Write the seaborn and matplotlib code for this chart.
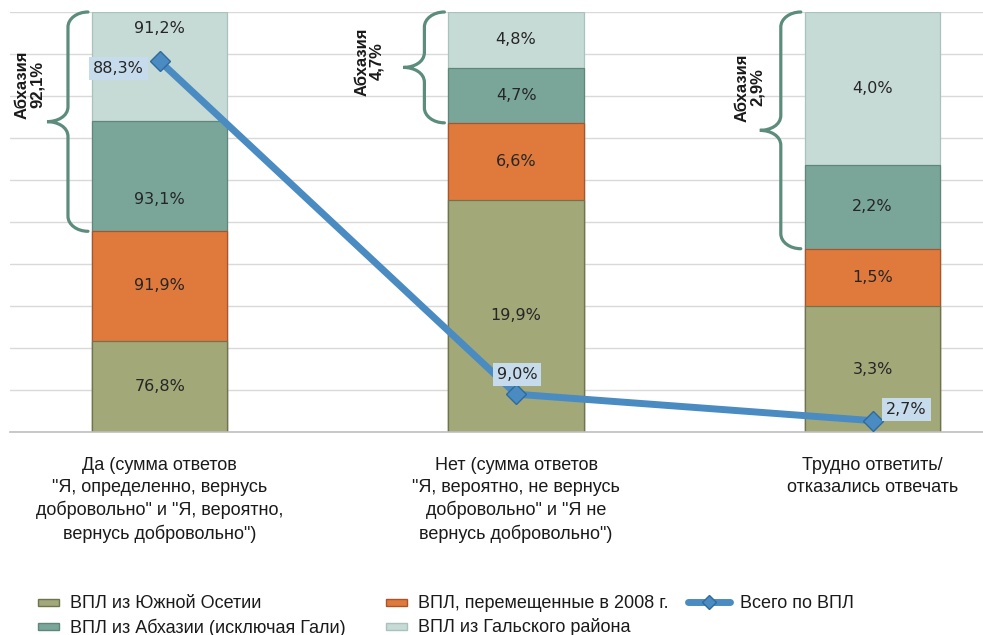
import numpy as np
import pandas as pd
import matplotlib
matplotlib.use("Agg")
import matplotlib.pyplot as plt
import seaborn as sns
from matplotlib.patches import Rectangle, PathPatch, Patch
from matplotlib.path import Path
from matplotlib.lines import Line2D
from matplotlib.legend_handler import HandlerPatch

# ---------------- data ----------------
categories = [
    'Да (сумма ответов\n"Я, определенно, вернусь\nдобровольно" и "Я, вероятно,\nвернусь добровольно")',
    'Нет (сумма ответов\n"Я, вероятно, не вернусь\nдобровольно" и "Я не\nвернусь добровольно")',
    'Трудно ответить/\nотказались отвечать',
]
series_names = [
    "ВПЛ из Южной Осетии",
    "ВПЛ, перемещенные в 2008 г.",
    "ВПЛ из Абхазии (исключая Гали)",
    "ВПЛ из Гальского района",
]
south_ossetia = [76.8, 19.9, 3.3]
displaced_2008 = [91.9, 6.6, 1.5]
abkhazia_excl_gali = [93.1, 4.7, 2.2]
gali_district = [91.2, 4.8, 4.0]
total_name = "Всего по ВПЛ"
total_idp = [88.3, 9.0, 2.7]
abkhazia_total = [92.1, 4.7, 2.9]

# ---------------- style ----------------
colors = ["#A2A878", "#E07A3C", "#7AA69A", "#C6DAD6"]
edge_colors = ["#6F7450", "#A9542A", "#5E8679", "#A9C2BD"]
line_color = "#4A8BC2"
label_box = "#C6DBEC"
brace_color = "#5C8C7C"
narrow = ["Liberation Sans", "DejaVu Sans"]

sns.set_theme(style="white")
plt.rcParams["font.family"] = ["DejaVu Sans"]

W, H = 983, 635
fig = plt.figure(figsize=(W / 100, H / 100), dpi=100)
ax = fig.add_axes([10 / W, (H - 432) / H, 973 / W, 420 / H])

vals = np.array([south_ossetia, displaced_2008, abkhazia_excl_gali, gali_district])
shares = vals / vals.sum(axis=0) * 100
cum = shares.cumsum(axis=0)

bar_w = 0.38
# cumulative bars drawn from top layer down
for i in range(len(series_names) - 1, -1, -1):
    sns.barplot(x=categories, y=cum[i], color=colors[i], saturation=1,
                width=bar_w, edgecolor=edge_colors[i], linewidth=0.9,
                errorbar=None, ax=ax, zorder=2)

# data labels inside bars
label_shift = {(3, 0): 27, (2, 0): -17}
for i in range(len(series_names)):
    for j in range(len(categories)):
        yc = cum[i, j] - shares[i, j] / 2
        ax.annotate(f"{vals[i, j]:.1f}%".replace(".", ","), xy=(j, yc),
                    xytext=(0, label_shift.get((i, j), 0)), textcoords="offset points",
                    ha="center", va="center", fontsize=11.5, color="#262626", zorder=4)

# total line
df_line = pd.DataFrame({"cat": categories, "val": total_idp})
sns.lineplot(data=df_line, x="cat", y="val", sort=False, color=line_color,
             linewidth=5, marker="D", markersize=10, markerfacecolor=line_color,
             markeredgecolor="#2F6A9E", markeredgewidth=1, ax=ax, zorder=6)

line_offsets = [(-29.5, -5), (0.7, 14.5), (24.5, 8)]
for j, v in enumerate(total_idp):
    ax.annotate(f"{v:.1f}%".replace(".", ","), xy=(j, v), xytext=line_offsets[j],
                textcoords="offset points", ha="center", va="center", fontsize=11.5,
                color="#262626", zorder=7,
                bbox=dict(boxstyle="square,pad=0.25", facecolor=label_box, edgecolor="none"))

# braces for Abkhazia
px_x = 1 / 356.5
px_y = 100 / 420
brace_text_off = [(-17, 37), (-34, 6), (-10, 43)]
for j in range(len(categories)):
    left = j - bar_w / 2
    x_end = left - 4 * px_x
    x_mid = left - 24 * px_x
    x_tip = left - 45 * px_x
    y_top = cum[3, j]
    y_bot = cum[1, j]
    y_tip = (y_top + y_bot) / 2
    r = 15 * px_y
    verts = [
        (x_end, y_top),
        (x_mid + (x_end - x_mid) * 0.45, y_top), (x_mid, y_top - r * 0.45), (x_mid, y_top - r),
        (x_mid, y_tip + r),
        (x_mid, y_tip + r * 0.35), ((x_mid + x_tip) / 2, y_tip), (x_tip, y_tip),
        ((x_mid + x_tip) / 2, y_tip), (x_mid, y_tip - r * 0.35), (x_mid, y_tip - r),
        (x_mid, y_bot + r),
        (x_mid, y_bot + r * 0.45), (x_mid + (x_end - x_mid) * 0.45, y_bot), (x_end, y_bot),
    ]
    codes = [Path.MOVETO] + [Path.CURVE4] * 3 + [Path.LINETO] + [Path.CURVE4] * 6 + \
            [Path.LINETO] + [Path.CURVE4] * 3
    ax.add_patch(PathPatch(Path(verts, codes), facecolor="none", edgecolor=brace_color,
                           linewidth=2.3, capstyle="round", clip_on=False, zorder=3))
    ox, oy = brace_text_off[j]
    ax.annotate(f"Абхазия\n{abkhazia_total[j]:.1f}%".replace(".", ","),
                xy=(x_tip, y_tip), xytext=(ox * 0.72, oy * 0.72), textcoords="offset points",
                rotation=90, ha="center", va="center", multialignment="center",
                fontsize=12, fontweight="bold", color="#1a1a1a", linespacing=1.0,
                family=narrow)

# axes styling
ax.set_ylim(0, 100)
ax.set_xlim(-0.42, 2.31)
ax.set_yticks(np.arange(0, 101, 10))
ax.set_yticklabels([])
ax.yaxis.grid(True, color="#D9D9D9", linewidth=1)
ax.set_axisbelow(True)
for s in ["left", "right", "top"]:
    ax.spines[s].set_visible(False)
ax.spines["bottom"].set_color("#BFBFBF")
ax.spines["bottom"].set_linewidth(1.2)
ax.set_xlabel("")
ax.set_ylabel("")
ax.tick_params(axis="x", length=0, pad=18)
ax.tick_params(axis="y", length=0)
for t in ax.get_xticklabels():
    t.set_fontfamily(narrow)
    t.set_fontsize(13)
    t.set_linespacing(1.36)
    t.set_color("#1a1a1a")

# legend
def small_patch(legend, orig_handle, xdescent, ydescent, width, height, fontsize):
    return Rectangle((-xdescent + width * 0.5, -ydescent + height * 0.22), width * 0.5, height * 0.56)

handles = [Patch(facecolor=colors[0], edgecolor=edge_colors[0]),
           Patch(facecolor=colors[2], edgecolor=edge_colors[2]),
           Patch(facecolor=colors[1], edgecolor=edge_colors[1]),
           Patch(facecolor=colors[3], edgecolor=edge_colors[3]),
           Line2D([], [], color=line_color, linewidth=5, marker="D", markersize=7,
                  markerfacecolor=line_color, markeredgecolor="#2F6A9E")]
labels = [series_names[0], series_names[2], series_names[1], series_names[3], total_name]
hm = {Patch: HandlerPatch(patch_func=small_patch)}
leg = fig.legend(handles, labels, ncol=3, loc="upper left", bbox_to_anchor=(3 / W, 1 - 581 / H),
                 frameon=False, handlelength=2.3, handletextpad=0.6, columnspacing=1.1,
                 labelspacing=0.33, handler_map=hm, borderpad=0.3,
                 prop={"family": narrow, "size": 13})
for t in leg.get_texts():
    t.set_color("#1a1a1a")

fig.savefig("out.png", dpi=100)
